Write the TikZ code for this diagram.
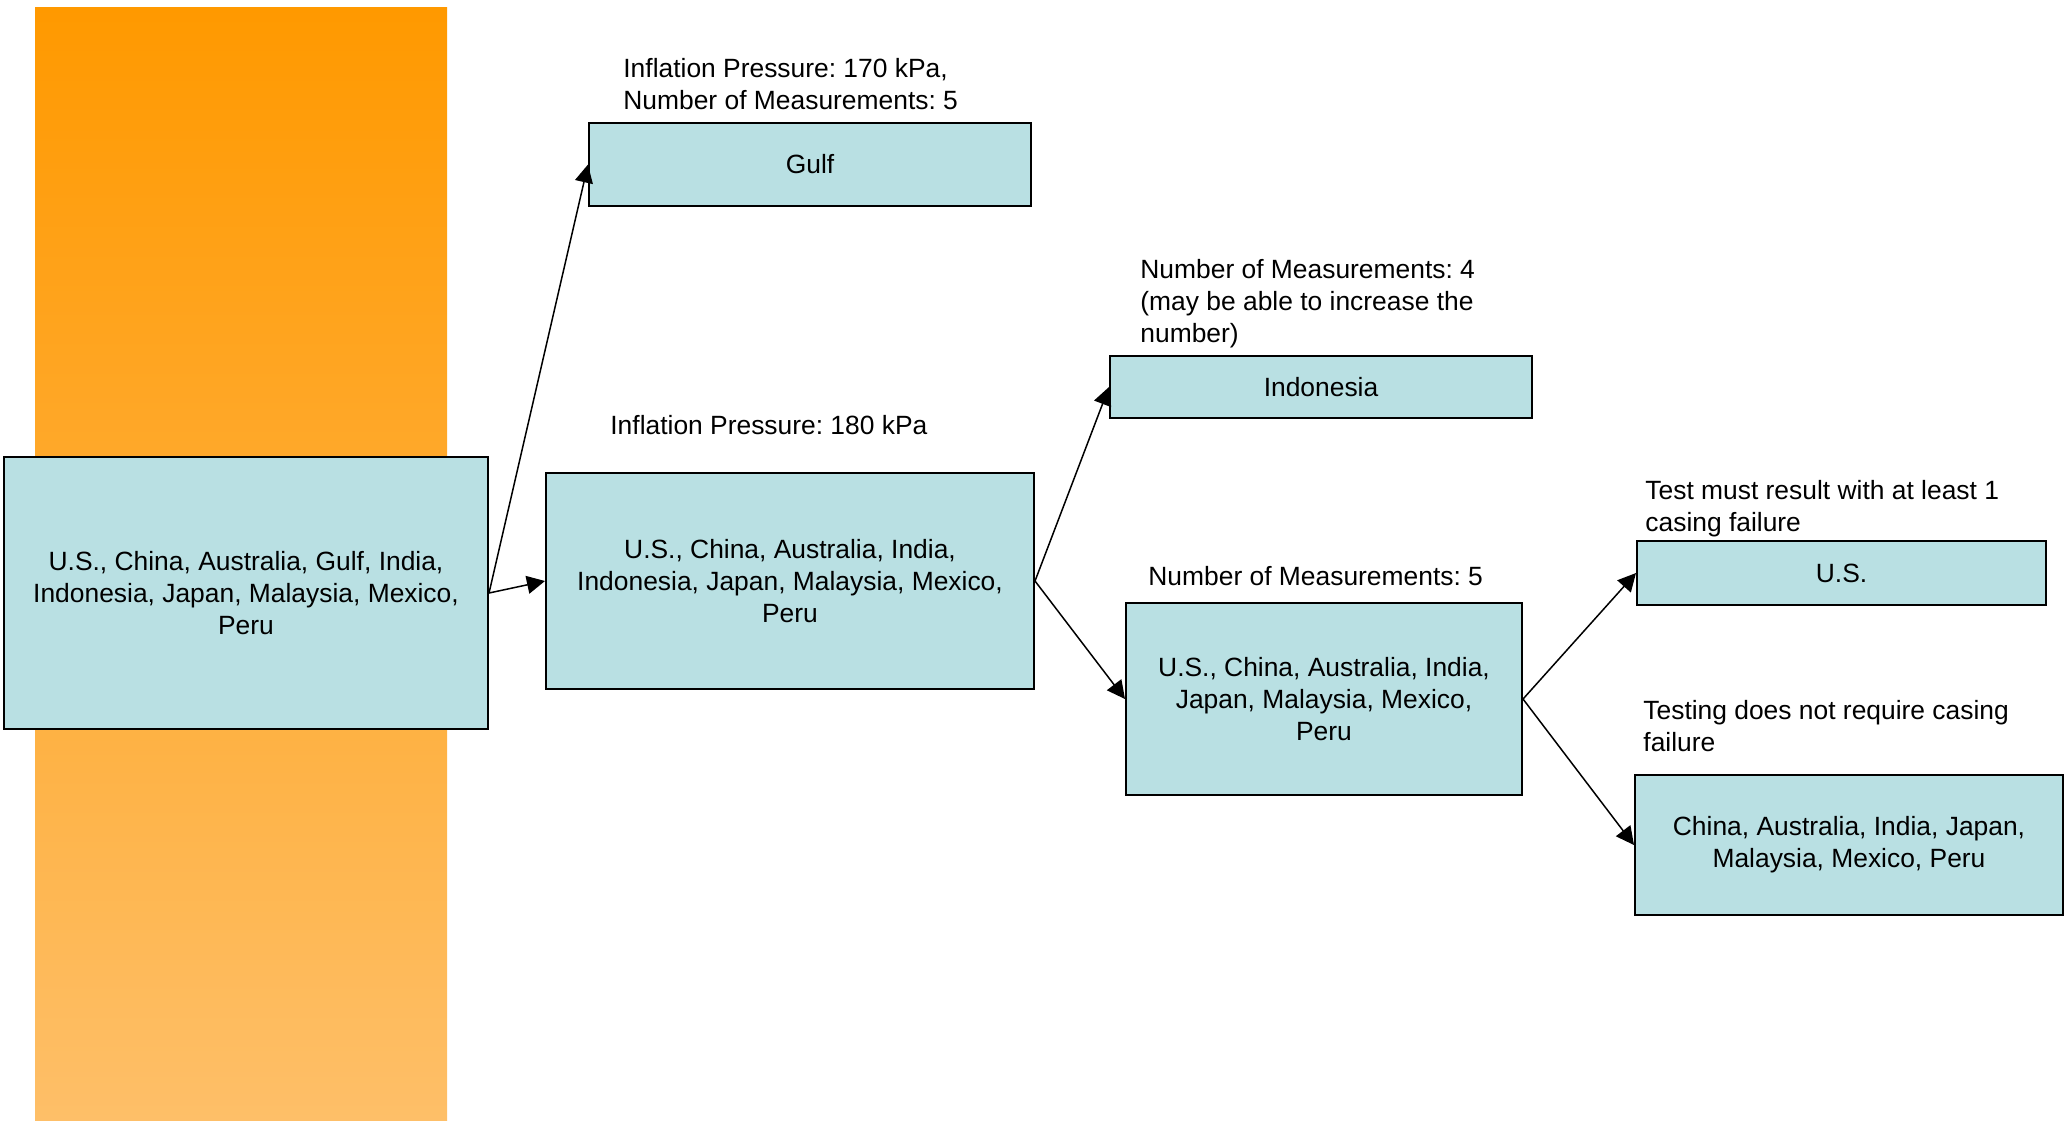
\documentclass[tikz,border=0pt]{standalone}
\usepackage{fontspec}
\setmainfont{Liberation Sans}
\usetikzlibrary{arrows.meta}
\definecolor{boxfill}{RGB}{185,224,227}
\definecolor{orangetop}{RGB}{255,153,0}
\definecolor{orangebot}{RGB}{254,191,104}
\frenchspacing
\begin{document}
\begin{tikzpicture}[x=0.5bp,y=-0.5bp,
  txt/.style={font=\fontsize{13.2bp}{16bp}\selectfont},
  box/.style={txt, draw=black, line width=1bp, fill=boxfill, align=center, inner sep=0pt},
  lbl/.style={txt, anchor=west, align=left, inner sep=0pt},
  arr/.style={line width=0.75bp, -{Triangle[length=9bp,width=9bp]}}]
\useasboundingbox (0,0) rectangle (2065,1120);
\shade[top color=orangetop, bottom color=orangebot] (35,7) rectangle (447,1120);
% boxes
\node[box, minimum width=242bp, minimum height=136bp] (A) at (246,593) {U.S., China, Australia, Gulf, India,\\Indonesia, Japan, Malaysia, Mexico,\\Peru};
\node[box, minimum width=221bp, minimum height=41.5bp] (B) at (810,164.5) {Gulf};
\node[box, minimum width=244bp, minimum height=108bp] (C) at (790,581) {U.S., China, Australia, India,\\Indonesia, Japan, Malaysia, Mexico,\\Peru};
\node[box, minimum width=211bp, minimum height=31bp] (D) at (1321,387) {Indonesia};
\node[box, minimum width=198bp, minimum height=96bp] (E) at (1324,699) {U.S., China, Australia, India,\\Japan, Malaysia, Mexico,\\Peru};
\node[box, minimum width=204.5bp, minimum height=32bp] (F) at (1841.5,573) {U.S.};
\node[box, minimum width=214bp, minimum height=70bp] (G) at (1849,845) {China, Australia, India, Japan,\\Malaysia, Mexico, Peru};
% labels
\node[lbl] (l1) at (623,84) {Inflation Pressure: 170 kPa,\\Number of Measurements: 5};
\node[lbl] (l2) at (610,425) {Inflation Pressure: 180 kPa};
\node[lbl] (l3) at (1140,304) {Number of Measurements: 4\\(may be able to increase the\\number)};
\node[lbl] (l4) at (1148,576) {Number of Measurements: 5};
\node[lbl] (l5) at (1645,508.5) {Test must result with at least 1\\casing failure};
\node[lbl] (l6) at (1643,726.5) {Testing does not require casing\\failure};
% connectors
\draw[arr] (A.east) -- (B.west);
\draw[arr] (A.east) -- (C.west);
\draw[arr] (C.east) -- (D.west);
\draw[arr] (C.east) -- (E.west);
\draw[arr] (E.east) -- (F.west);
\draw[arr] (E.east) -- (G.west);
\end{tikzpicture}
\end{document}
